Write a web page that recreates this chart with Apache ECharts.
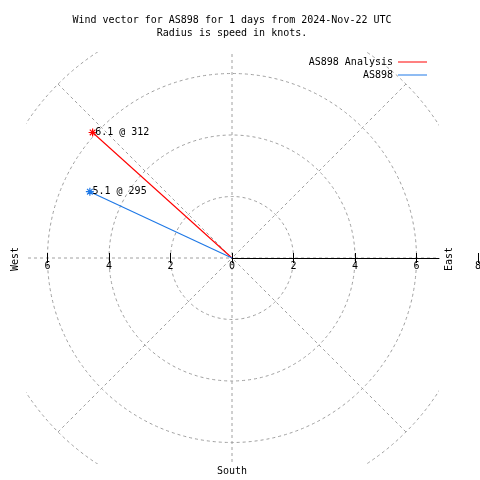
<!DOCTYPE html>
<html><head><meta charset="utf-8">
<script src="https://cdn.jsdelivr.net/npm/echarts@6/dist/echarts.min.js"></script>
<style>html,body{margin:0;padding:0;background:#fff}#c{width:480px;height:480px}</style>
</head><body><div id="c"></div>
<script>
// ---- data ----
const seriesNames = ['AS898 Analysis', 'AS898'];
const speeds = [6.1, 5.1];        // knots
const directions = [312, 295];    // degrees (clockwise from north)
const radiusTicks = [0, 2, 4, 6, 8];
const axisTickValues = [-8, -6, -4, -2, 0, 2, 4, 6, 8];
const titleLines = ['Wind vector for AS898 for 1 days from 2024-Nov-22 UTC', 'Radius is speed in knots.'];
const compassLabels = ['West', 'East', 'South'];

// ---- layout / style ----
const seriesColors = ['#ff0000', '#1e78e6'];
const FONT = '"DejaVu Sans Mono", "Liberation Mono", monospace';
const FONT_SIZE = 10;
const CX = 232, CY = 258, KT = 30.75;
const RMAX = radiusTicks[radiusTicks.length - 1];
const R = RMAX * KT;
const HALF = 206;
const GRID_COLOR = '#a0a0a0';
const DASH = [3, 3];
const ASTERISK = 'path://M4,0L4,8M0,4L8,4M1.2,1.2L6.8,6.8M1.2,6.8L6.8,1.2';

const chart = echarts.init(document.getElementById('c'), null, {renderer: 'canvas'});

const tickStep = radiusTicks[1] - radiusTicks[0];

const option = {
  animation: false,
  backgroundColor: '#fff',
  legend: {
    orient: 'vertical', right: 480 - 427, top: 56, padding: 0, itemGap: 1,
    align: 'right', itemWidth: 29, itemHeight: 1, selectedMode: false,
    itemStyle: {borderWidth: 0},
    data: seriesNames.map(n => ({name: n, icon: 'rect'})),
    textStyle: {fontFamily: FONT, fontSize: FONT_SIZE, color: '#000', lineHeight: 12},
    z: 20
  },
  polar: {center: [CX, CY], radius: R},
  angleAxis: {
    type: 'value', min: 0, max: 360, interval: 45, startAngle: 90, clockwise: true,
    axisLine: {show: false}, axisTick: {show: false}, axisLabel: {show: false},
    splitLine: {show: true, lineStyle: {color: GRID_COLOR, type: DASH, width: 1}},
    z: 0
  },
  radiusAxis: {
    type: 'value', min: radiusTicks[0], max: RMAX, interval: tickStep,
    axisLine: {show: false}, axisTick: {show: false}, axisLabel: {show: false},
    splitLine: {show: true, lineStyle: {color: GRID_COLOR, type: DASH, width: 1}},
    z: 0
  },
  grid: [
    {left: CX - RMAX * KT, width: 2 * RMAX * KT, top: CY, height: 0, containLabel: false, outerBoundsMode: 'none'},
    {left: CX, width: HALF + 1, top: CY, height: 0, containLabel: false, outerBoundsMode: 'none'}
  ],
  xAxis: [
    {gridIndex: 0, type: 'value', min: axisTickValues[0], max: axisTickValues[axisTickValues.length - 1], interval: tickStep,
     position: 'bottom', axisLine: {show: false},
     axisTick: {show: true, length: 5, lineStyle: {color: '#000', width: 1}},
     axisLabel: {show: true, margin: 3, formatter: v => String(Math.abs(v)), fontFamily: FONT, fontSize: FONT_SIZE, color: '#000'},
     splitLine: {show: false}, z: 10},
    {gridIndex: 0, type: 'value', min: axisTickValues[0], max: axisTickValues[axisTickValues.length - 1], interval: tickStep,
     position: 'top', axisLine: {show: false},
     axisTick: {show: true, length: 5, lineStyle: {color: '#000', width: 1}},
     axisLabel: {show: false}, splitLine: {show: false}, z: 10},
    {gridIndex: 1, type: 'value', min: 0, max: 1,
     axisLine: {show: true, onZero: false, lineStyle: {color: '#000', width: 1}},
     axisTick: {show: false}, axisLabel: {show: false}, splitLine: {show: false}, z: 10}
  ],
  yAxis: [
    {gridIndex: 0, type: 'value', show: false, min: 0, max: 1},
    {gridIndex: 1, type: 'value', show: false, min: 0, max: 1}
  ],
  series: seriesNames.map((name, i) => ({
    name, type: 'line', coordinateSystem: 'polar', z: 5, silent: true,
    lineStyle: {color: seriesColors[i], width: 1.1},
    itemStyle: {color: seriesColors[i], borderColor: seriesColors[i], borderWidth: 1.2},
    data: [
      {value: [0, 0], symbol: 'none'},
      {value: [speeds[i], directions[i]], symbol: ASTERISK, symbolSize: 8,
       label: {show: true, position: 'right', distance: -2,
               formatter: speeds[i].toFixed(1) + ' @ ' + directions[i],
               fontFamily: FONT, fontSize: FONT_SIZE, color: '#000'}}
    ]
  })),
  graphic: [
    {type: 'rect', z: 1, silent: true, shape: {x: 0, y: 0, width: 480, height: CY - HALF}, style: {fill: '#fff'}},
    {type: 'rect', z: 1, silent: true, shape: {x: 0, y: CY + HALF, width: 480, height: 480 - CY - HALF}, style: {fill: '#fff'}},
    {type: 'rect', z: 1, silent: true, shape: {x: 0, y: 0, width: CX - HALF, height: 480}, style: {fill: '#fff'}},
    {type: 'rect', z: 1, silent: true, shape: {x: CX + HALF + 1, y: 0, width: 480, height: 480}, style: {fill: '#fff'}},
    {type: 'text', z: 20, x: 15, y: 259, rotation: Math.PI / 2,
     style: {text: compassLabels[0], font: FONT_SIZE + 'px ' + FONT, fill: '#000', align: 'center', verticalAlign: 'middle', textAlign: 'center', textVerticalAlign: 'middle'}},
    {type: 'text', z: 20, x: 449, y: 259, rotation: Math.PI / 2,
     style: {text: compassLabels[1], font: FONT_SIZE + 'px ' + FONT, fill: '#000', align: 'center', verticalAlign: 'middle', textAlign: 'center', textVerticalAlign: 'middle'}},
    {type: 'text', z: 20, x: CX, y: 471,
     style: {text: compassLabels[2], font: FONT_SIZE + 'px ' + FONT, fill: '#000', align: 'center', verticalAlign: 'middle', textAlign: 'center', textVerticalAlign: 'middle'}},
    {type: 'text', z: 20, x: CX, y: 20,
     style: {text: titleLines[0], font: FONT_SIZE + 'px ' + FONT, fill: '#000', align: 'center', verticalAlign: 'middle', textAlign: 'center', textVerticalAlign: 'middle'}},
    {type: 'text', z: 20, x: CX, y: 33,
     style: {text: titleLines[1], font: FONT_SIZE + 'px ' + FONT, fill: '#000', align: 'center', verticalAlign: 'middle', textAlign: 'center', textVerticalAlign: 'middle'}}
  ]
};
chart.setOption(option);
</script>
</body></html>
